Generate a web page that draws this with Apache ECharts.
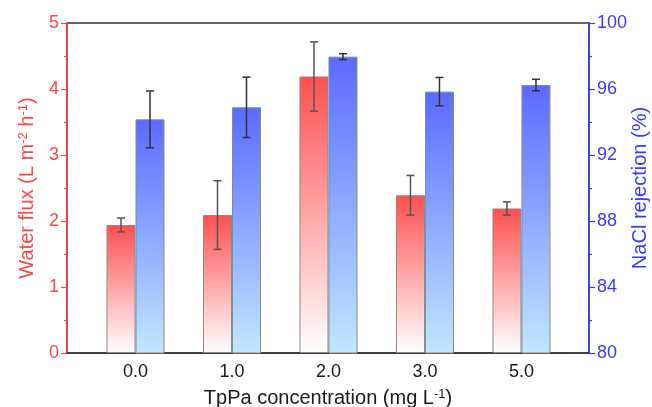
<!DOCTYPE html>
<html>
<head>
<meta charset="utf-8">
<script src="https://cdn.jsdelivr.net/npm/echarts@6/dist/echarts.min.js"></script>
<style>
  html, body { margin: 0; padding: 0; background: #fff; }
  #chart { width: 652px; height: 407px; }
</style>
</head>
<body>
<div id="chart"></div>
<script>
// TpPa loading vs. membrane performance
const concentrations = ['0.0', '1.0', '2.0', '3.0', '5.0'];
const waterFlux = [1.94, 2.09, 4.19, 2.39, 2.19];
const waterFluxErr = [0.105, 0.52, 0.525, 0.30, 0.10];
const rejection = [94.16, 94.89, 97.96, 95.84, 96.24];
const rejectionErr = [1.72, 1.83, 0.18, 0.86, 0.35];

const BAR_W = 29;
const RED = '#ff4545';
const BLUE = '#3b3bff';
const FONT = 'Liberation Sans, Arial, sans-serif';

const fluxPoints = waterFlux.map((v, i) => [i, v]);
const rejPoints = rejection.map((v, i) => [i, v]);
const fluxErrPoints = waterFlux.map((v, i) => [i, v - waterFluxErr[i], v + waterFluxErr[i]]);
const rejErrPoints = rejection.map((v, i) => [i, v - rejectionErr[i], v + rejectionErr[i]]);

function errorBar(shift, color) {
  return function (params, api) {
    const x = api.value(0);
    const lo = api.coord([x, api.value(1)]);
    const hi = api.coord([x, api.value(2)]);
    const cx = lo[0] + shift;
    const cap = 4;
    const style = { stroke: color, lineWidth: 1.5, fill: null };
    return {
      type: 'group',
      children: [
        { type: 'line', shape: { x1: cx, y1: hi[1], x2: cx, y2: lo[1] }, style },
        { type: 'line', shape: { x1: cx - cap, y1: hi[1], x2: cx + cap, y2: hi[1] }, style },
        { type: 'line', shape: { x1: cx - cap, y1: lo[1], x2: cx + cap, y2: lo[1] }, style }
      ]
    };
  };
}

function grad(top, bottom) {
  return new echarts.graphic.LinearGradient(0, 0, 0, 1, [
    { offset: 0, color: top },
    { offset: 1, color: bottom }
  ]);
}

const chart = echarts.init(document.getElementById('chart'), null, { renderer: 'canvas' });

chart.setOption({
  backgroundColor: '#ffffff',
  animation: false,
  grid: {
    left: 67, right: 63, top: 23, bottom: 54,
    outerBoundsMode: 'none',
    containLabel: false,
    show: true, borderColor: '#333', borderWidth: 1.5
  },
  xAxis: {
    type: 'value',
    min: -0.71,
    max: 4.7,
    name: '{t|TpPa concentration (mg L}{s|-1}{t|)}',
    nameLocation: 'middle',
    nameGap: 35,
    nameTextStyle: {
      rich: {
        t: { fontSize: 20, fontFamily: FONT, color: '#1a1a1a' },
        s: { fontSize: 13, fontFamily: FONT, color: '#1a1a1a', verticalAlign: 'top' }
      }
    },
    axisLine: { show: true, onZero: false, lineStyle: { color: '#333', width: 1.5 } },
    axisTick: { show: false },
    splitLine: { show: false },
    axisLabel: {
      customValues: [0, 1, 2, 3, 4],
      formatter: v => concentrations[Math.round(v)],
      fontSize: 18,
      fontFamily: FONT,
      color: '#1a1a1a',
      margin: 10
    }
  },
  yAxis: [
    {
      type: 'value',
      min: 0, max: 5, interval: 1,
      position: 'left',
      name: '{t|Water flux (L m}{s|-2}{t| h}{s|-1}{t|)}',
      nameLocation: 'middle',
      nameRotate: 90,
      nameGap: 30,
      nameTextStyle: {
        rich: {
          t: { fontSize: 20, fontFamily: FONT, color: RED },
          s: { fontSize: 13, fontFamily: FONT, color: RED, verticalAlign: 'top' }
        }
      },
      axisLine: { show: true, onZero: false, lineStyle: { color: RED, width: 1.5 } },
      axisTick: { show: true, inside: false, length: 6, lineStyle: { color: RED, width: 1.2 } },
      minorTick: { show: true, splitNumber: 2, length: 3, lineStyle: { color: RED, width: 1.2 } },
      splitLine: { show: false },
      axisLabel: { fontSize: 18, fontFamily: FONT, color: RED, margin: 8 }
    },
    {
      type: 'value',
      min: 80, max: 100, interval: 4,
      position: 'right',
      name: 'NaCl rejection (%)',
      nameLocation: 'middle',
      nameRotate: 90,
      nameGap: 41,
      nameMoveOverlap: false,
      nameTextStyle: { fontSize: 20, fontFamily: FONT, color: BLUE },
      axisLine: { show: true, onZero: false, lineStyle: { color: BLUE, width: 1.5 } },
      axisTick: { show: true, inside: false, length: 6, lineStyle: { color: BLUE, width: 1.2 } },
      minorTick: { show: true, splitNumber: 2, length: 3, lineStyle: { color: BLUE, width: 1.2 } },
      splitLine: { show: false },
      axisLabel: { fontSize: 18, fontFamily: FONT, color: BLUE, margin: 8 }
    }
  ],
  series: [
    {
      name: 'Water flux',
      type: 'bar',
      yAxisIndex: 0,
      data: fluxPoints,
      barWidth: BAR_W,
      barGap: '0%',
      itemStyle: { color: grad('#ff4f4f', '#ffffff'), borderColor: '#8a8a8a', borderWidth: 1 },
      z: 2
    },
    {
      name: 'NaCl rejection',
      type: 'bar',
      yAxisIndex: 1,
      data: rejPoints,
      barWidth: BAR_W,
      barGap: '0%',
      itemStyle: { color: grad('#5a6aff', '#c0e8ff'), borderColor: '#8a8a8a', borderWidth: 1 },
      z: 2
    },
    {
      type: 'custom',
      yAxisIndex: 0,
      data: fluxErrPoints,
      renderItem: errorBar(-BAR_W / 2, '#555555'),
      encode: { x: 0, y: [1, 2] },
      clip: false,
      z: 3
    },
    {
      type: 'custom',
      yAxisIndex: 1,
      data: rejErrPoints,
      renderItem: errorBar(BAR_W / 2, '#333333'),
      encode: { x: 0, y: [1, 2] },
      clip: false,
      z: 3
    }
  ]
});
</script>
</body>
</html>
